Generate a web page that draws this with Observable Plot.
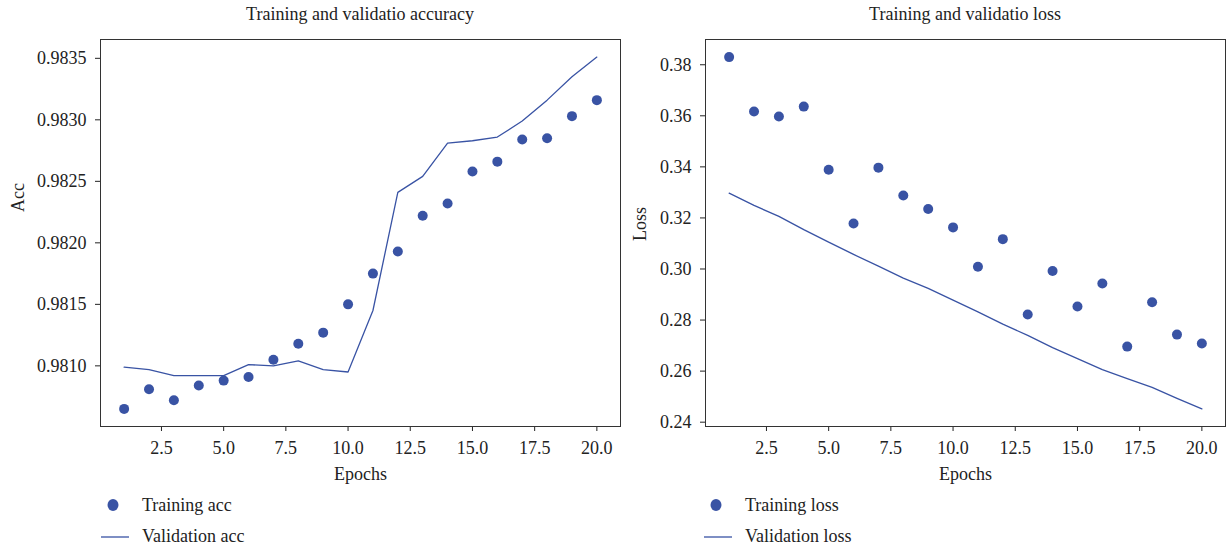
<!DOCTYPE html>
<html><head><meta charset="utf-8">
<script src="https://cdn.jsdelivr.net/npm/d3@7"></script>
<script src="https://cdn.jsdelivr.net/npm/@observablehq/plot@0.6"></script>
<style>
body{margin:0;background:#fff;}
#wrap{position:relative;width:1226px;height:548px;font-family:"Liberation Serif",serif;color:#222;overflow:hidden;background:#fff}
.panel{position:absolute;top:0}
.title{position:absolute;top:5px;font-size:18px;line-height:18px;transform:translateX(-50%);white-space:nowrap}
.legtxt{position:absolute;font-size:18px;line-height:18px;white-space:nowrap}
.legsym{position:absolute}
</style></head><body><div id="wrap"></div>
<script>
const epochs = [1,2,3,4,5,6,7,8,9,10,11,12,13,14,15,16,17,18,19,20];
const trainAcc = [0.98065,0.98081,0.98072,0.98084,0.98088,0.98091,0.98105,0.98118,0.98127,0.98150,0.98175,0.98193,0.98222,0.98232,0.98258,0.98266,0.98284,0.98285,0.98303,0.98316];
const valAcc = [0.98099,0.98097,0.98092,0.98092,0.98092,0.98101,0.98100,0.98104,0.98097,0.98095,0.98145,0.98241,0.98254,0.98281,0.98283,0.98286,0.98299,0.98316,0.98335,0.98351];
const trainLoss = [0.3830,0.3617,0.3597,0.3636,0.3389,0.3178,0.3397,0.3288,0.3235,0.3163,0.3009,0.3117,0.2822,0.2992,0.2853,0.2943,0.2696,0.2870,0.2743,0.2708];
const valLoss = [0.3297,0.3249,0.3206,0.3154,0.3105,0.3057,0.3011,0.2964,0.2924,0.2878,0.2832,0.2784,0.2740,0.2692,0.2649,0.2606,0.2571,0.2536,0.2493,0.2452];
const xTicks = [2.5,5.0,7.5,10.0,12.5,15.0,17.5,20.0];
const accTicks = [0.9810,0.9815,0.9820,0.9825,0.9830,0.9835];
const lossTicks = [0.24,0.26,0.28,0.30,0.32,0.34,0.36,0.38];
const titles = ["Training and validatio accuracy","Training and validatio loss"];
const yLabels = ["Acc","Loss"];
const xLabel = "Epochs";
const legendAcc = ["Training acc","Validation acc"];
const legendLoss = ["Training loss","Validation loss"];

const color = "#3953a4";
const wrap = document.getElementById("wrap");

function padded(vals){
  const [a,b] = d3.extent(vals); const p = (b-a)*0.05; return [a-p,b+p];
}

function panel(o){
  const rows = epochs.map((e,i)=>({epoch:e, train:o.train[i], val:o.val[i]}));
  const chart = Plot.plot({
    width:o.width, height:490,
    marginTop:39, marginBottom:64, marginLeft:o.marginLeft, marginRight:o.marginRight,
    style:{fontFamily:'"Liberation Serif", serif', fontSize:"18px", color:"#222", background:"white"},
    x:{domain:padded(epochs)},
    y:{domain:padded(o.train.concat(o.val))},
    marks:[
      Plot.axisX({ticks:xTicks, tickFormat:d3.format(".1f"), tickSize:5, tickPadding:10, label:null}),
      Plot.axisY({ticks:o.yTicks, tickFormat:d3.format(o.yFmt), tickSize:5, tickPadding:9, label:null}),
      Plot.line(rows, {x:"epoch", y:"val", stroke:color, strokeWidth:1.3}),
      Plot.dot(rows, {x:"epoch", y:"train", r:5, fill:color}),
      Plot.frame({stroke:"#333", strokeWidth:1}),
      Plot.text([xLabel], {frameAnchor:"bottom", dy:48, lineAnchor:"middle"}),
      Plot.text([o.ylabel], {frameAnchor:"left", rotate:-90, dx:o.ldx, dy:o.ldy, lineAnchor:"middle"})
    ]
  });
  const div = document.createElement("div");
  div.className = "panel"; div.style.left = o.left+"px";
  div.appendChild(chart); wrap.appendChild(div);

  const t = document.createElement("div");
  t.className = "title"; t.style.left = o.titleX+"px"; t.textContent = o.title;
  wrap.appendChild(t);

  const lx = o.legX;
  const dot = document.createElementNS("http://www.w3.org/2000/svg","svg");
  dot.setAttribute("width",14); dot.setAttribute("height",14);
  dot.setAttribute("class","legsym");
  dot.style.left = (lx-7)+"px"; dot.style.top = (505-7)+"px";
  dot.innerHTML = `<ellipse cx="7" cy="7" rx="5.5" ry="6" fill="${color}"/>`;
  wrap.appendChild(dot);
  const ln = document.createElementNS("http://www.w3.org/2000/svg","svg");
  ln.setAttribute("width",30); ln.setAttribute("height",4);
  ln.setAttribute("class","legsym");
  ln.style.left = (lx-12)+"px"; ln.style.top = (537-2)+"px";
  ln.innerHTML = `<line x1="0" x2="28" y1="2" y2="2" stroke="${color}" stroke-width="1.3"/>`;
  wrap.appendChild(ln);
  o.legend.forEach((name,i)=>{
    const s = document.createElement("div");
    s.className = "legtxt"; s.textContent = name;
    s.style.left = (lx+29)+"px"; s.style.top = (i===0?496:527)+"px";
    wrap.appendChild(s);
  });
}

panel({train:trainAcc, val:valAcc, yTicks:accTicks, yFmt:".4f", ylabel:yLabels[0], title:titles[0],
  left:0, width:630, marginLeft:100, marginRight:10, ldx:-82, ldy:-21, titleX:360, legX:113, legend:legendAcc});
panel({train:trainLoss, val:valLoss, yTicks:lossTicks, yFmt:".2f", ylabel:yLabels[1], title:titles[1],
  left:630, width:596, marginLeft:75, marginRight:1, ldx:-65, ldy:8, titleX:965, legX:716, legend:legendLoss});
</script>
</body></html>
